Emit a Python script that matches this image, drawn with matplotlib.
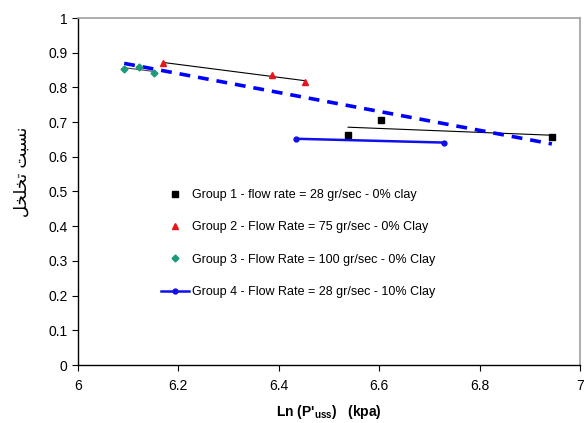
import numpy as np
import matplotlib
matplotlib.use("Agg")
import matplotlib.pyplot as plt

plt.rcParams['font.family'] = ['Liberation Sans', 'DejaVu Sans']

g1_x = [6.538, 6.604, 6.944]
g1_y = [0.664, 0.707, 0.658]
g2_x = [6.169, 6.386, 6.452]
g2_y = [0.871, 0.836, 0.816]
g3_x = [6.092, 6.122, 6.151]
g3_y = [0.853, 0.859, 0.842]
g4_x = [6.434, 6.729]
g4_y = [0.652, 0.641]

labels = [
    "Group 1 - flow rate = 28 gr/sec - 0% clay",
    "Group 2 - Flow Rate = 75 gr/sec - 0% Clay",
    "Group 3 - Flow Rate = 100 gr/sec - 0% Clay",
    "Group 4 - Flow Rate = 28 gr/sec - 10% Clay",
]
xticks = [6, 6.2, 6.4, 6.6, 6.8, 7]
yticks = [0, 0.1, 0.2, 0.3, 0.4, 0.5, 0.6, 0.7, 0.8, 0.9, 1]
# Persian label "نسبت تخلخل" in shaped presentation forms, visual order
ylabel = "\uFEDE\uFEA8\uFEE0\uFEA8\uFE97 \uFE96\uFE92\uFEB4\uFEE7"

fig = plt.figure(figsize=(5.87, 4.23), dpi=100)
ax = fig.add_axes([78/587, 1-365/423, (580-78)/587, (365-18)/423])


def trend(ax, xs, ys, **kw):
    c = np.polyfit(xs, ys, 1)
    xx = np.array([min(xs), max(xs)])
    ax.plot(xx, np.polyval(c, xx), **kw)


trend(ax, g1_x, g1_y, color='black', lw=0.8, zorder=2)
trend(ax, g2_x, g2_y, color='black', lw=0.8, zorder=2)
trend(ax, g3_x, g3_y, color='#444444', lw=0.8, zorder=2)
all_x = g1_x + g2_x + g3_x
all_y = g1_y + g2_y + g3_y
trend(ax, all_x, all_y, color='#0000ff', lw=2.6, ls=(0, (3, 2.2)), zorder=3)

ax.plot(g1_x, g1_y, ls='none', marker='s', ms=4.5, color='black', label=labels[0], zorder=4)
ax.plot(g2_x, g2_y, ls='none', marker='^', ms=5, color='#e8141c', label=labels[1], zorder=4)
ax.plot(g3_x, g3_y, ls='none', marker='D', ms=3.5, color='#1a9a7a', label=labels[2], zorder=4)
ax.plot(g4_x, g4_y, ls='-', lw=1.8, marker='o', ms=3.5, color='#1010e8', label=labels[3], zorder=4)

ax.set_xlim(6, 7)
ax.set_ylim(0, 1)
ax.set_xticks(xticks)
ax.set_xticklabels([f"{v:g}" for v in xticks])
ax.set_yticks(yticks)
ax.set_yticklabels([f"{v:g}" for v in yticks])
ax.tick_params(direction='out', length=4, labelsize=10, width=0.8)
ax.tick_params(axis='x', pad=6)
for s in ['left', 'bottom']:
    ax.spines[s].set_color('black')
    ax.spines[s].set_linewidth(1.0)
for s in ['top', 'right']:
    ax.spines[s].set_color('#a0a0a0')
    ax.spines[s].set_linewidth(1.2)

ax.set_xlabel(r"Ln (P'$_{\mathregular{uss}}$)   (kpa)", fontsize=10, fontweight='bold', labelpad=7)
ax.set_ylabel(ylabel, fontsize=12, family=['DejaVu Sans'])
ax.yaxis.set_label_coords(-0.095, 0.556)

leg = ax.legend(loc='upper left', bbox_to_anchor=(0.142, 0.539), frameon=False,
                fontsize=9, labelspacing=1.62, handlelength=2.3, handletextpad=0.2,
                markerfirst=True)

fig.savefig("out.png", dpi=100)
